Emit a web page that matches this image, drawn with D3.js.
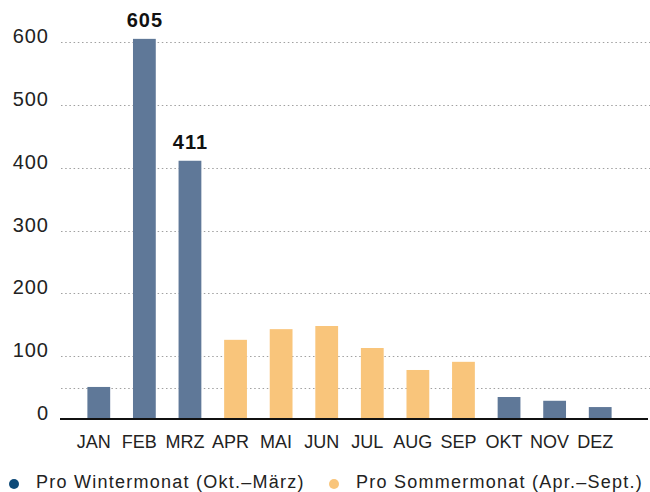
<!DOCTYPE html>
<html>
<head>
<meta charset="utf-8">
<script src="https://cdn.jsdelivr.net/npm/d3@7"></script>
<style>
  html, body { margin: 0; padding: 0; background: #fff; }
  svg { display: block; font-family: "Liberation Sans", Arial, sans-serif; }
</style>
</head>
<body>
<svg id="chart" width="650" height="492"></svg>
<script>
const months = ["JAN","FEB","MRZ","APR","MAI","JUN","JUL","AUG","SEP","OKT","NOV","DEZ"];
const values = [51, 605, 411, 126, 143, 148, 113, 78, 91, 35, 29, 19];
const season = ["winter","winter","winter","summer","summer","summer","summer","summer","summer","winter","winter","winter"];
const labelledMonths = ["FEB","MRZ"];
const yTicks = [0, 100, 200, 300, 400, 500, 600];
const gridValues = [50, 100, 200, 300, 400, 500, 600];
const legendItems = ["Pro Wintermonat (Okt.\u2013März)", "Pro Sommermonat (Apr.\u2013Sept.)"];
const legendKeys = ["winter", "summer"];

const barColor = { winter: "#5f7898", summer: "#f9c57b" };
const dotColor = { winter: "#0e4a78", summer: "#f9c57b" };

const svg = d3.select("#chart");
const y = d3.scaleLinear().domain([0, 600]).range([419, 42]);
const x = d3.scaleBand().domain(months).range([76, 623]).paddingInner(0.5).paddingOuter(0.25);

// grid
svg.append("g").selectAll("line").data(gridValues).join("line")
  .attr("x1", 61).attr("x2", 650)
  .attr("y1", d => Math.round(y(d)) + 0.5).attr("y2", d => Math.round(y(d)) + 0.5)
  .attr("stroke", "#a0a0a0").attr("stroke-width", 1.2)
  .attr("stroke-dasharray", "1.5,2.7");

// y labels
svg.append("g").selectAll("text").data(yTicks).join("text")
  .attr("x", 49).attr("y", d => y(d) + 1)
  .attr("text-anchor", "end")
  .attr("font-size", 20).attr("letter-spacing", 1).attr("fill", "#222")
  .text(d => d);

// bars
const data = months.map((m, i) => ({ m, v: values[i], s: season[i] }));
svg.append("g").selectAll("rect").data(data).join("rect")
  .attr("x", d => x(d.m)).attr("width", x.bandwidth())
  .attr("y", d => y(d.v)).attr("height", d => y(0) - y(d.v))
  .attr("fill", d => barColor[d.s]);

// baseline
svg.append("line").attr("x1", 60).attr("x2", 648)
  .attr("y1", y(0)).attr("y2", y(0))
  .attr("stroke", "#111").attr("stroke-width", 2);

// value labels
svg.append("g").selectAll("text").data(data.filter(d => labelledMonths.includes(d.m))).join("text")
  .attr("x", d => x(d.m) + x.bandwidth() / 2 + 0.5).attr("y", d => y(d.v) - 12)
  .attr("text-anchor", "middle").attr("font-weight", "bold")
  .attr("font-size", 20).attr("letter-spacing", 1).attr("fill", "#111")
  .text(d => d.v);

// x labels
svg.append("g").selectAll("text").data(months).join("text")
  .attr("x", d => x(d) + x.bandwidth() / 2 - 5).attr("y", 448)
  .attr("text-anchor", "middle")
  .attr("font-size", 18).attr("fill", "#222")
  .text(d => d);

// legend
const legendX = [14, 334];
const lg = svg.append("g").selectAll("g").data(legendItems).join("g")
  .attr("transform", (d, i) => `translate(${legendX[i]},484)`);
lg.append("circle").attr("r", 5).attr("fill", (d, i) => dotColor[legendKeys[i]]);
lg.append("text").attr("x", 22).attr("y", 4)
  .attr("font-size", 18).attr("letter-spacing", 1.25).attr("fill", "#222")
  .text(d => d);
</script>
</body>
</html>
